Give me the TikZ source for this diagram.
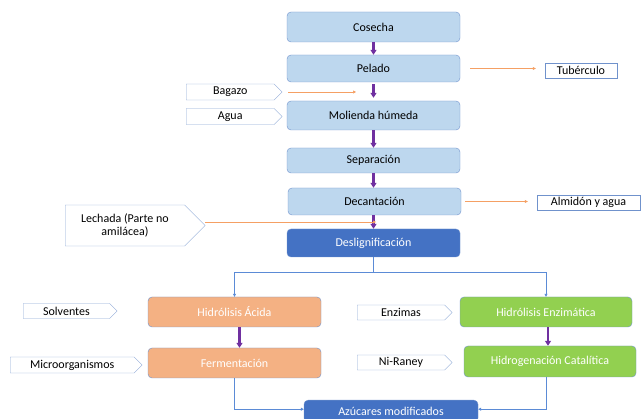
\documentclass[tikz,border=0pt]{standalone}
\usepackage{fontspec}
\setmainfont{Carlito}
\usetikzlibrary{shapes.symbols,arrows.meta}
\definecolor{pasoazul}{RGB}{189,215,238}
\definecolor{bordeazul}{RGB}{112,146,204}
\definecolor{azuloscuro}{RGB}{68,114,196}
\definecolor{naranja}{RGB}{244,177,131}
\definecolor{verde}{RGB}{146,208,80}
\definecolor{morado}{RGB}{112,48,160}
\definecolor{flechanar}{RGB}{245,160,100}
\definecolor{lineazul}{RGB}{91,139,214}
\begin{document}
\begin{tikzpicture}[x=1pt,y=-1pt,font=\fontsize{12}{13}\selectfont,
  paso/.style={draw=bordeazul,fill=pasoazul,rounded corners=4pt,minimum width=173pt,inner sep=0pt},
  pasoosc/.style={paso,fill=azuloscuro,text=white},
  pasonar/.style={paso,fill=naranja,text=white},
  pasover/.style={paso,fill=verde,text=white},
  entrada/.style={signal,signal to=east,draw=bordeazul!80,fill=white,inner sep=0pt,minimum height=16pt,anchor=west},
  salida/.style={draw=bordeazul,fill=white,inner sep=0pt,minimum height=15pt},
  flechamor/.style={-{Triangle[length=5pt,width=6pt]},draw=morado,line width=2.2pt},
  flechanaranja/.style={-{Triangle[length=3pt,width=3pt]},draw=flechanar,line width=0.6pt},
  linea/.style={draw=lineazul,line width=0.6pt},
  flechalinea/.style={linea,-{Triangle[length=3pt,width=3pt]}}]
\useasboundingbox (0,0) rectangle (643,419);
% etapas principales
\node[paso,minimum height=30pt] (cosecha) at (373.5,27) {Cosecha};
\node[paso,minimum height=27pt] (pelado) at (373.5,68.5) {Pelado};
\node[paso,minimum height=29pt] (molienda) at (373.5,115.5) {Molienda húmeda};
\node[paso,minimum height=25pt] (separacion) at (373.5,160.5) {Separación};
\node[paso,minimum height=27pt] (decantacion) at (374.5,201.5) {Decantación};
\node[pasoosc,minimum height=28pt] (deslig) at (373.5,243) {Deslignificación};
\node[pasonar,minimum height=30pt] (acida) at (234.5,312) {Hidrólisis Ácida};
\node[pasonar,minimum height=30pt] (ferment) at (234.5,363) {Fermentación};
\node[pasover,minimum width=172pt,minimum height=30pt] (enzimatica) at (546,312) {Hidrólisis Enzimática};
\node[pasover,minimum width=172pt,minimum height=31pt] (hidrog) at (550,361.5) {Hidrogenación Catalítica};
\node[pasoosc,minimum width=174pt,minimum height=22pt,anchor=north] (azucares) at (391,400) {Azúcares modificados};
% entradas y salidas
\node[salida,minimum width=72pt] (tuberculo) at (581,70.5) {Tubérculo};
\node[salida,minimum width=103pt] (almidon) at (588.5,202.5) {Almidón y agua};
\node[entrada,minimum width=96pt] (bagazo) at (186,92) {Bagazo};
\node[entrada,minimum width=96pt] (agua) at (186,116.5) {Agua};
\node[entrada,minimum width=140pt,minimum height=41pt,align=center] (lechada) at (65,225.5) {Lechada (Parte no\\amilácea)};
\node[entrada,minimum width=94pt,minimum height=15pt] (solventes) at (23,311) {Solventes};
\node[entrada,minimum width=132pt] (micro) at (10,365) {Microorganismos};
\node[entrada,minimum width=95pt,minimum height=15pt] (enzimas) at (357,312.5) {Enzimas};
\node[entrada,minimum width=95pt,minimum height=15pt] (niraney) at (357,362.5) {Ni-Raney};
\coordinate (finbagazo) at (356,92);
\coordinate (finlechada) at (376,222);
\coordinate (reparto) at (373.5,272);
% flechas
\draw[flechamor] (cosecha) -- (pelado);
\draw[flechamor,shorten <=2pt,shorten >=3pt] (pelado) -- (molienda);
\draw[flechamor] (molienda) -- (separacion);
\draw[flechamor] (separacion) -- (decantacion.north -| separacion);
\draw[flechamor] (decantacion.south -| deslig) -- (deslig);
\draw[flechamor] ([xshift=5pt]acida.south) -- ([xshift=5pt]acida.south |- ferment.north);
\draw[flechamor] ([xshift=2pt]enzimatica.south) -- ([xshift=2pt]enzimatica.south |- hidrog.north);
\draw[flechanaranja,shorten <=10pt,shorten >=9pt] (pelado.east) -- (tuberculo.west |- pelado.east);
\draw[flechanaranja,shorten <=4pt,shorten >=9pt] (decantacion.east) -- (almidon.west |- decantacion.east);
\draw[flechanaranja,shorten <=6pt] (bagazo.east) -- (finbagazo);
\draw[flechanaranja] (lechada.east |- finlechada) -- (finlechada);
\draw[linea] (deslig) -- (reparto);
\draw[flechalinea] (reparto) -| (acida);
\draw[flechalinea] (reparto) -| (enzimatica);
\draw[flechalinea] (ferment) |- ([yshift=2pt]azucares.west);
\draw[flechalinea] (hidrog.south -| enzimatica) |- ([yshift=2pt]azucares.east);
\end{tikzpicture}
\end{document}
